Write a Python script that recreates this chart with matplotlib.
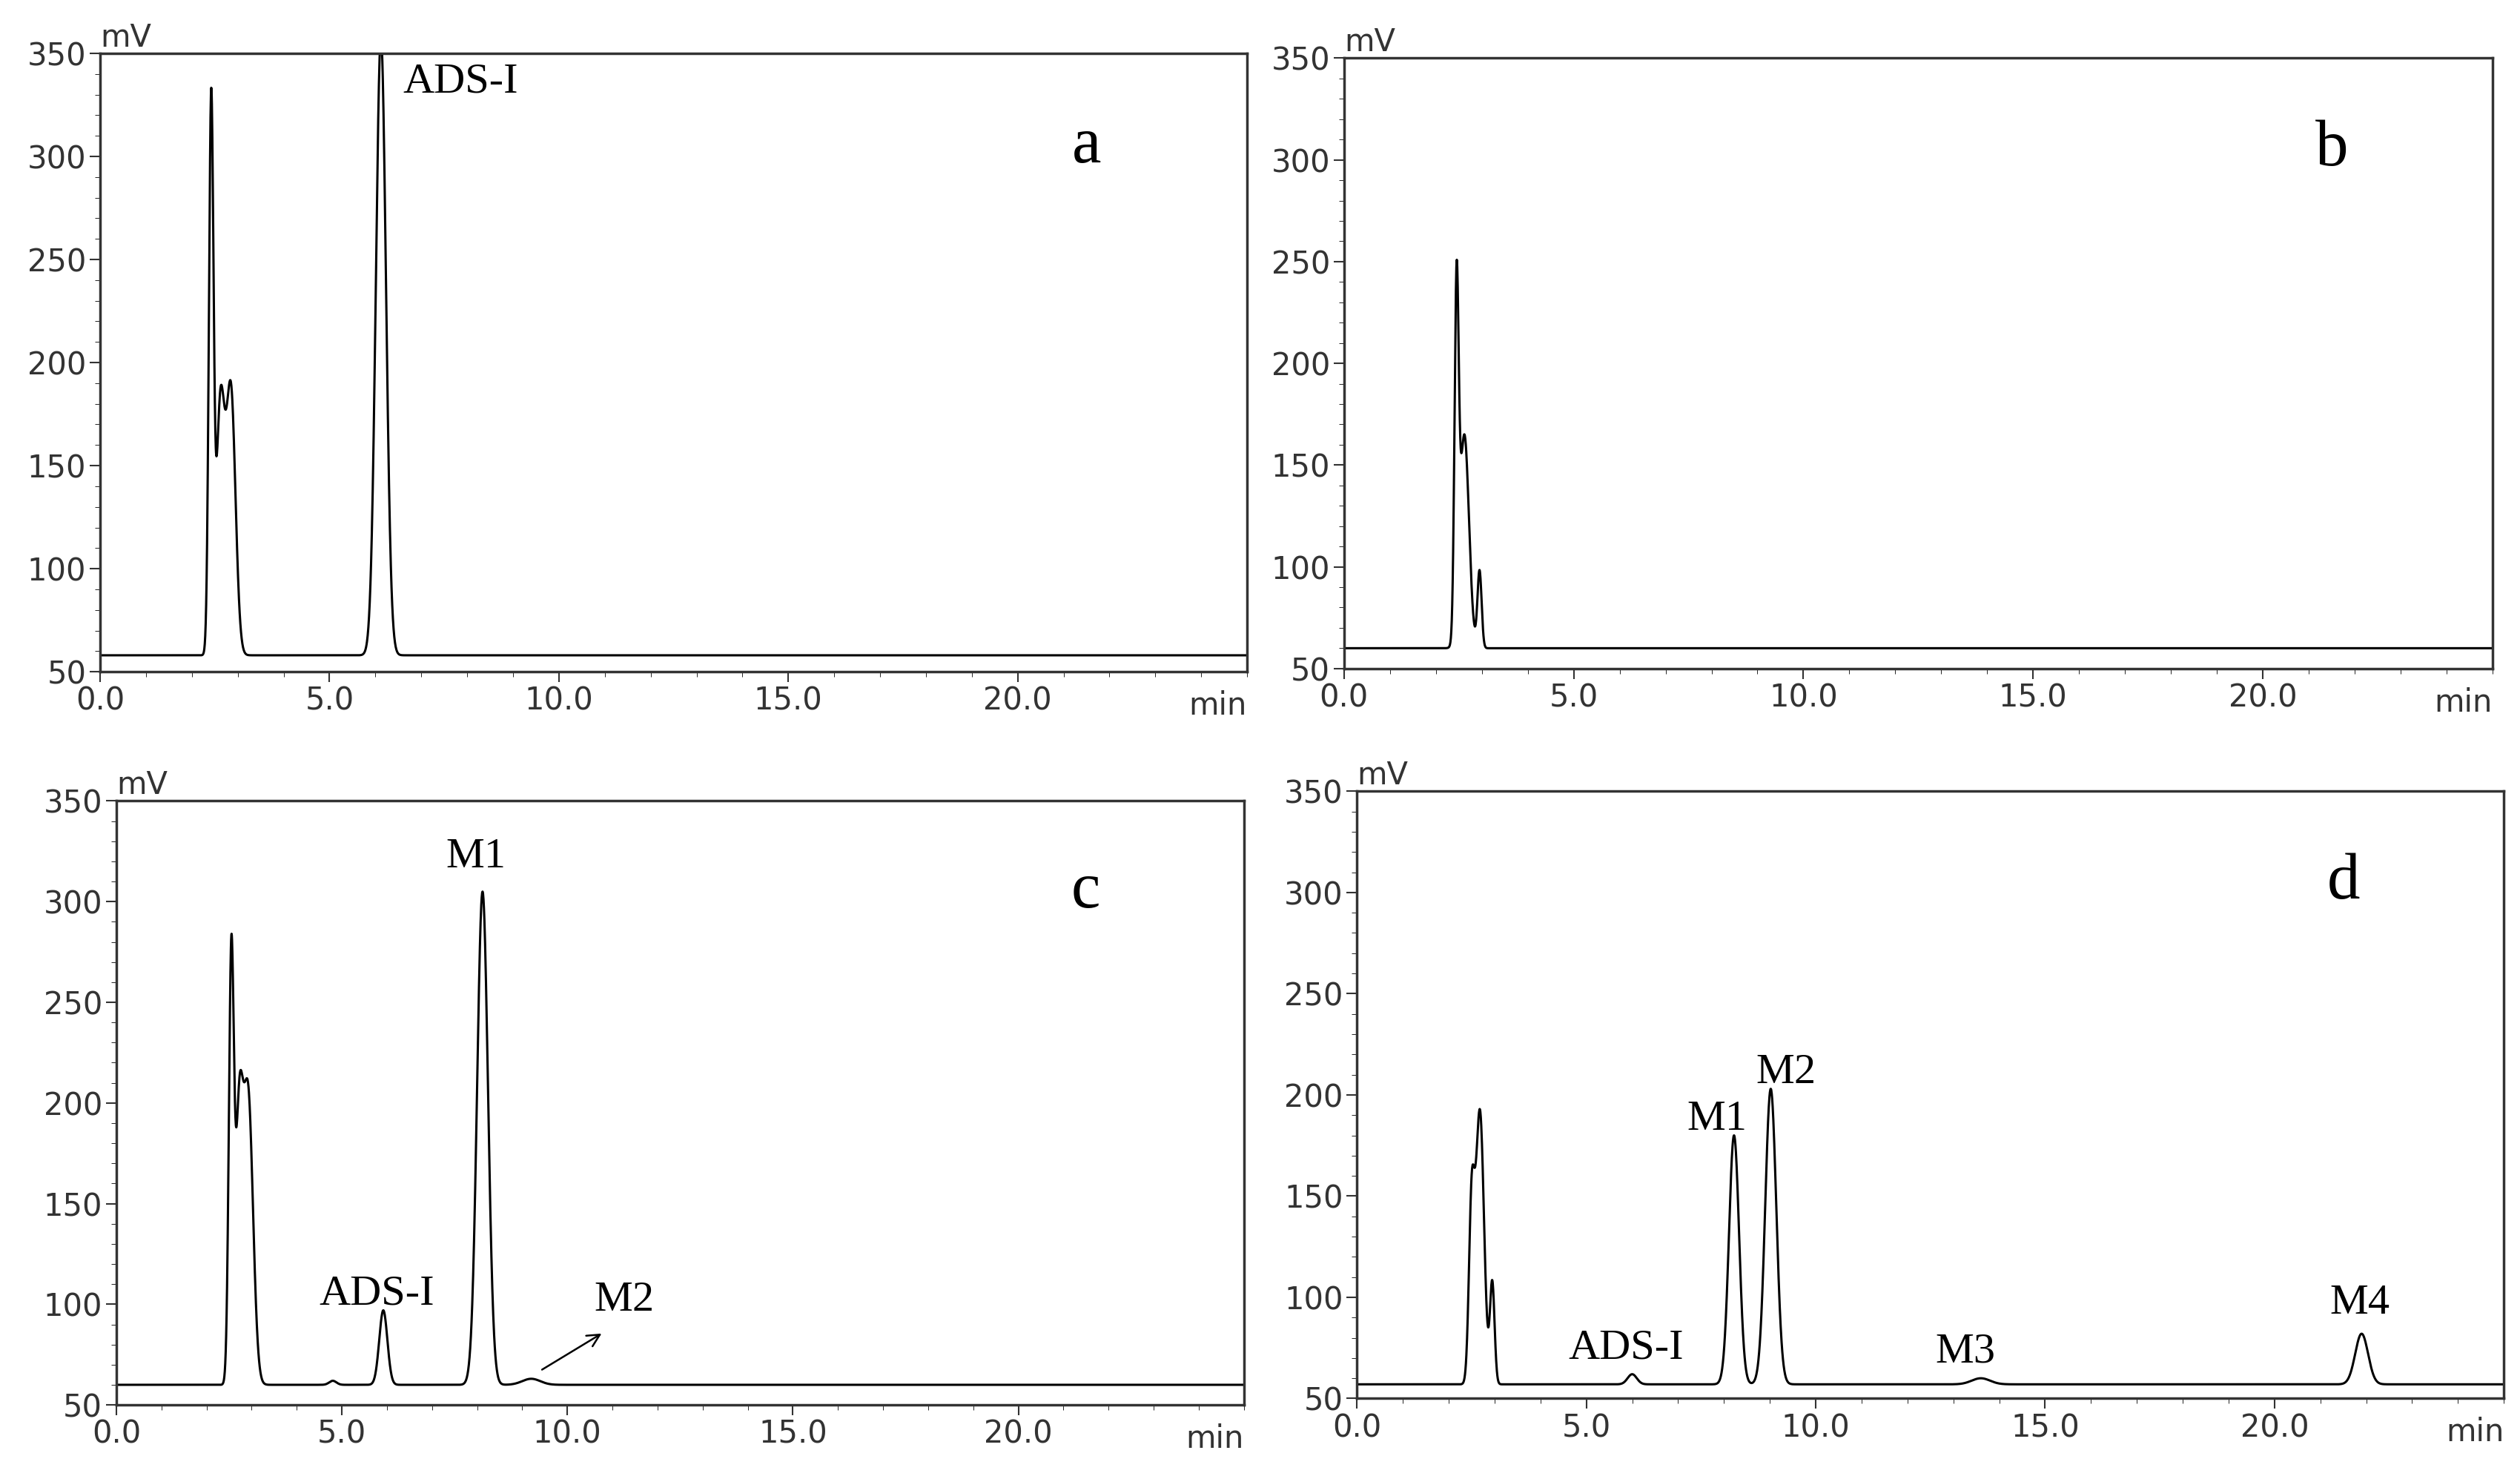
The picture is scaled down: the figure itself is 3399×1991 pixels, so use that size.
import numpy as np
import matplotlib
matplotlib.use("Agg")
import matplotlib.pyplot as plt

W, H = 1560, 914
# peak data: retention time (min), height above baseline (mV), width (sigma, min)
a_base = 58
a_rt = [2.42, 2.62, 2.85, 6.12]
a_h = [265, 120, 128, 300]
a_w = [0.05, 0.09, 0.1, 0.11]

b_base = 60
b_rt = [2.45, 2.62, 2.95]
b_h = [165, 105, 38]
b_w = [0.045, 0.1, 0.045]

c_base = 60
c_rt = [2.55, 2.72, 2.92, 5.92, 8.12, 9.2, 4.8]
c_h = [210, 120, 145, 37, 245, 3, 2]
c_w = [0.055, 0.08, 0.11, 0.09, 0.12, 0.2, 0.08]

d_base = 57
d_rt = [2.5, 2.68, 2.95, 6.0, 8.22, 9.02, 13.6, 21.9]
d_h = [85, 135, 50, 5, 123, 146, 3, 25]
d_w = [0.06, 0.09, 0.05, 0.1, 0.11, 0.12, 0.2, 0.14]

panels = [
    ("a", a_base, a_rt, a_h, a_w, (62, 33, 772, 416),
     [("ADS-I", 6.6, 336)]),
    ("b", b_base, b_rt, b_h, b_w, (832, 36, 1543, 414), []),
    ("c", c_base, c_rt, c_h, c_w, (72, 496, 770, 870),
     [("ADS-I", 4.5, 105), ("M1", 7.3, 322), ("M2", 10.6, 102)]),
    ("d", d_base, d_rt, d_h, d_w, (840, 490, 1550, 866),
     [("ADS-I", 4.6, 75), ("M1", 7.2, 188), ("M2", 8.7, 211),
      ("M3", 12.6, 73), ("M4", 21.2, 97)]),
]

fig = plt.figure(figsize=(33.99, 19.91), dpi=100)
t = np.linspace(0, 25, 5000)
for letter, base, rt, hh, ww, box, labels in panels:
    x0, y0, x1, y1 = box
    ax = fig.add_axes([x0 / W, 1 - y1 / H, (x1 - x0) / W, (y1 - y0) / H])
    y = np.full_like(t, base, dtype=float)
    for r, h, w in zip(rt, hh, ww):
        y += h * np.exp(-0.5 * ((t - r) / w) ** 2)
    ax.plot(t, y, color="black", lw=2.2)
    ax.set_xlim(0, 25)
    ax.set_ylim(50, 350)
    ax.set_xticks([0, 5, 10, 15, 20])
    ax.set_xticklabels(["0.0", "5.0", "10.0", "15.0", "20.0"])
    ax.set_yticks([50, 100, 150, 200, 250, 300, 350])
    ax.set_xticks(np.arange(0, 25.1, 1), minor=True)
    ax.set_yticks(np.arange(50, 351, 10), minor=True)
    ax.tick_params(labelsize=30, colors="#333333", length=10, width=1.5)
    ax.tick_params(which="minor", length=5)
    for s in ax.spines.values():
        s.set_linewidth(2.5)
        s.set_color("#333333")
    ax.text(0.0, 1.0, "mV", transform=ax.transAxes, fontsize=30,
            color="#333333", ha="left", va="bottom")
    ax.text(1.0, -0.03, "min", transform=ax.transAxes, fontsize=30,
            color="#333333", ha="right", va="top")
    ax.text(0.86, 0.85, letter, transform=ax.transAxes, fontsize=64,
            family="Liberation Serif", ha="center", va="center")
    for lab, lx, ly in labels:
        ax.text(lx, ly, lab, fontsize=42, family="Liberation Serif",
                ha="left", va="center")
    if letter == "c":
        ax.annotate("", xy=(10.8, 86), xytext=(9.4, 67),
                    arrowprops=dict(arrowstyle="->", lw=1.8, color="black",
                                    mutation_scale=30))

fig.savefig("out.png", dpi=100)
